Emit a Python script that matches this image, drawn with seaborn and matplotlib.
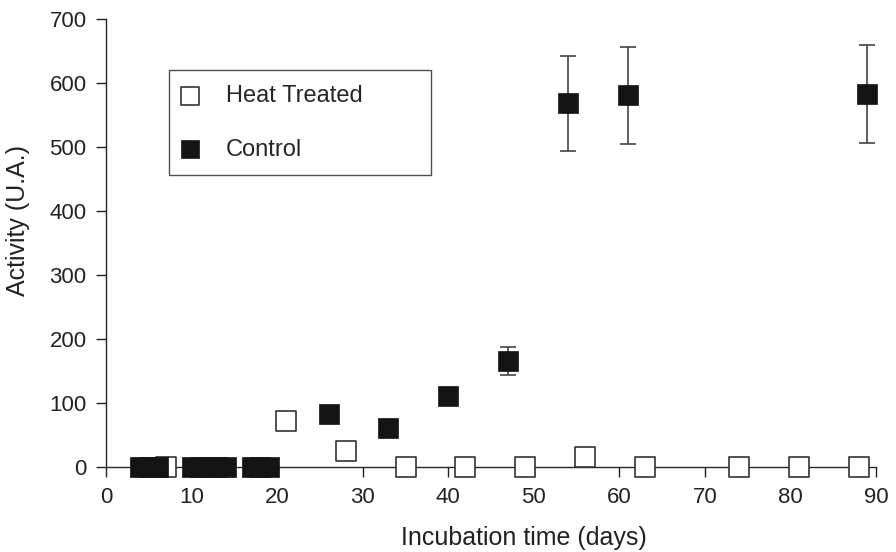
import numpy as np
import pandas as pd
import seaborn as sns
import matplotlib.pyplot as plt

# values
heat_days = [7, 21, 28, 35, 42, 49, 56, 63, 74, 81, 88]
heat_act = [0, 72, 25, 0, 0, 0, 16, 0, 0, 0, 0]

ctrl_days = [4, 5, 6, 10, 11, 12, 13, 14, 17, 18, 19, 26, 33, 40, 47, 54, 61, 89]
ctrl_act = [0, 0, 0, 0, 0, 0, 0, 0, 0, 0, 0, 83, 61, 111, 166, 568, 581, 583]
ctrl_err = [0, 0, 0, 0, 0, 0, 0, 0, 0, 0, 0, 0, 0, 0, 22, 74, 76, 76]

df_heat = pd.DataFrame({"day": heat_days, "act": heat_act})
df_ctrl = pd.DataFrame({"day": ctrl_days, "act": ctrl_act, "err": ctrl_err})

sns.set_style("ticks")
plt.rcParams['font.family'] = ['Liberation Sans', 'DejaVu Sans']
plt.rcParams['axes.linewidth'] = 1.0

fig = plt.figure(figsize=(8.96, 5.52), dpi=100)
ax = fig.add_axes([0.1186, 0.154, 0.8589, 0.8116])

ms = 190
sns.scatterplot(data=df_heat, x="day", y="act", marker="s", s=ms,
                facecolor="white", edgecolor="#333333", linewidth=1.2,
                ax=ax, clip_on=False, zorder=3, label="Heat Treated")

ax.errorbar(df_ctrl["day"], df_ctrl["act"], yerr=df_ctrl["err"], fmt="none",
            ecolor="#444444", elinewidth=1.2, capsize=5.8, capthick=1.2,
            zorder=4, clip_on=False)

sns.scatterplot(data=df_ctrl, x="day", y="act", marker="s", s=ms,
                color="#141414", edgecolor="#141414", linewidth=0.5,
                ax=ax, clip_on=False, zorder=5, label="Control")

ax.set_xlim(0, 90)
ax.set_ylim(0, 700)
ax.set_xticks(range(0, 91, 10))
ax.set_yticks(range(0, 701, 100))
sns.despine(ax=ax)
ax.tick_params(direction="out", length=7.2, width=1.0, labelsize=16,
               colors="#222222", pad=7)
ax.set_xlabel("Incubation time (days)", fontsize=18, color="#222222")
ax.set_ylabel("Activity (U.A.)", fontsize=18, color="#222222")
ax.xaxis.set_label_coords(0.543, -0.132)
ax.yaxis.set_label_coords(-0.099, 0.551)

leg = ax.legend(loc="upper left", bbox_to_anchor=(0.0815, 0.686, 0.340, 0.2),
                mode="expand", borderaxespad=0, fontsize=17, frameon=True,
                fancybox=False, edgecolor="#222222", handlelength=0.5,
                handletextpad=1.28, labelspacing=1.35, borderpad=0.62,
                markerscale=0.95)
leg.get_frame().set_linewidth(1.0)
leg.set_zorder(6)

fig.savefig("out.png", dpi=100)
